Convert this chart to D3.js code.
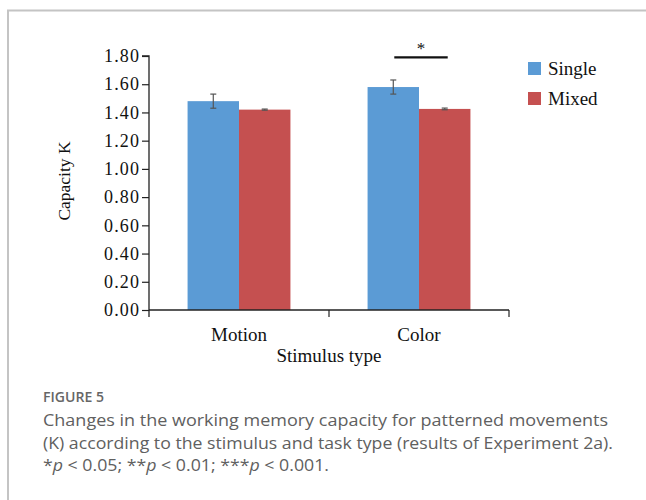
<!DOCTYPE html>
<html>
<head>
<meta charset="utf-8">
<script src="https://cdn.jsdelivr.net/npm/d3@7"></script>
<style>
  body { margin: 0; background: #fff; }
  svg text { fill: #111; }
</style>
</head>
<body>
<div id="chart"></div>
<script>
// Data
var categories = ["Motion", "Color"];
var seriesNames = ["Single", "Mixed"];
var singleValues = [1.48, 1.58];
var mixedValues = [1.42, 1.425];
var singleErr = [0.05, 0.05];
var mixedErr = [0.004, 0.006];
var yTicks = [0, 0.2, 0.4, 0.6, 0.8, 1.0, 1.2, 1.4, 1.6, 1.8];
var colors = ["#5b9bd5", "#c55050"];

var svgW = 646, svgH = 500;
var margin = { top: 56, left: 149, right: 137, bottom: 190 };
var w = svgW - margin.left - margin.right;
var h = svgH - margin.top - margin.bottom;
var serif = "Liberation Serif, Times New Roman, serif";

var svg = d3.select("#chart").append("svg")
  .attr("width", svgW)
  .attr("height", svgH);

// frame
svg.append("path")
  .attr("d", "M8,500 V10.5 H646")
  .attr("fill", "none")
  .attr("stroke", "#c4c4c4")
  .attr("stroke-width", 2);

var g = svg.append("g")
  .attr("transform", "translate(" + margin.left + "," + margin.top + ")");

var xScale = d3.scaleBand().domain(categories).range([0, w]);
var xInner = d3.scaleBand().domain(seriesNames).range([0, xScale.bandwidth()]).paddingOuter(0.75).paddingInner(0);
var yScale = d3.scaleLinear().domain([0, 1.8]).range([h, 0]);

var rows = categories.map(function (c, i) {
  return { cat: c, vals: [singleValues[i], mixedValues[i]], errs: [singleErr[i], mixedErr[i]] };
});

// bars
var groups = g.selectAll(".grp").data(rows).enter().append("g")
  .attr("transform", d => "translate(" + xScale(d.cat) + ",0)");

groups.selectAll("rect")
  .data(d => d.vals.map((v, j) => ({ s: seriesNames[j], v: v, e: d.errs[j], j: j })))
  .enter().append("rect")
  .attr("x", d => xInner(d.s))
  .attr("y", d => yScale(d.v))
  .attr("width", xInner.bandwidth())
  .attr("height", d => h - yScale(d.v))
  .attr("fill", d => colors[d.j]);

// error bars
var eb = groups.selectAll(".err")
  .data(d => d.vals.map((v, j) => ({ s: seriesNames[j], v: v, e: d.errs[j] })))
  .enter().append("g").attr("stroke", "#555").attr("stroke-width", 1.2);
eb.append("line")
  .attr("x1", d => xInner(d.s) + xInner.bandwidth() / 2)
  .attr("x2", d => xInner(d.s) + xInner.bandwidth() / 2)
  .attr("y1", d => yScale(d.v + d.e))
  .attr("y2", d => yScale(d.v - d.e));
[1, -1].forEach(function (sgn) {
  eb.append("line")
    .attr("x1", d => xInner(d.s) + xInner.bandwidth() / 2 - 3)
    .attr("x2", d => xInner(d.s) + xInner.bandwidth() / 2 + 3)
    .attr("y1", d => yScale(d.v + sgn * d.e))
    .attr("y2", d => yScale(d.v + sgn * d.e));
});

// y axis
var yAxis = d3.axisLeft(yScale).tickValues(yTicks).tickFormat(d3.format(".2f")).tickSize(7).tickPadding(2);
var yG = g.append("g").call(yAxis);
yG.select(".domain").attr("d", "M0," + (h + 7) + "V0H-7").attr("stroke", "#222").attr("stroke-width", 1.3);
yG.selectAll(".tick line").attr("stroke", "#222").attr("stroke-width", 1.2);
yG.selectAll("text").style("font-family", serif).style("font-size", "18px")
  .style("letter-spacing", "1.1px").attr("fill", "#111");

// x axis
var xG = g.append("g").attr("transform", "translate(0," + h + ")");
xG.append("line").attr("x1", 0).attr("x2", w).attr("stroke", "#222").attr("stroke-width", 1.3);
xG.selectAll(".xt").data([w / 2, w]).enter().append("line")
  .attr("x1", d => d).attr("x2", d => d).attr("y1", 0).attr("y2", 7)
  .attr("stroke", "#222").attr("stroke-width", 1.2);
xG.selectAll(".xl").data(categories).enter().append("text")
  .attr("x", d => xScale(d) + xScale.bandwidth() / 2)
  .attr("y", 31)
  .attr("text-anchor", "middle")
  .style("font-family", serif).style("font-size", "19px")
  .text(d => d);

// axis titles
g.append("text")
  .attr("x", w / 2).attr("y", h + 52)
  .attr("text-anchor", "middle")
  .style("font-family", serif).style("font-size", "19px")
  .text("Stimulus type");
g.append("text")
  .attr("transform", "rotate(-90)")
  .attr("x", -125).attr("y", -79)
  .attr("text-anchor", "middle")
  .style("font-family", serif).style("font-size", "17.5px")
  .text("Capacity K");

// significance bracket over Color
var cx = xScale("Color");
var sigY = yScale(1.79);
g.append("line")
  .attr("x1", cx + xInner("Single") + xInner.bandwidth() / 2 + 1)
  .attr("x2", cx + xInner("Mixed") + xInner.bandwidth() / 2 + 3)
  .attr("y1", sigY).attr("y2", sigY)
  .attr("stroke", "#111").attr("stroke-width", 2.2);
g.append("text")
  .attr("x", cx + xInner("Mixed") + 2).attr("y", sigY - 3)
  .attr("text-anchor", "middle")
  .style("font-family", serif).style("font-size", "17px")
  .text("*");

// legend
var leg = svg.append("g").attr("transform", "translate(528,62)");
seriesNames.forEach(function (s, i) {
  leg.append("rect").attr("x", 0).attr("y", i * 30).attr("width", 13).attr("height", 13).attr("fill", colors[i]);
  leg.append("text").attr("x", 20).attr("y", i * 30 + 13)
    .style("font-family", serif).style("font-size", "19px")
    .text(s);
});

// caption
var cap = svg.append("g").attr("transform", "translate(43,0)");
cap.append("text").attr("x", 0).attr("y", 402)
  .attr("textLength", 61).attr("lengthAdjust", "spacingAndGlyphs")
  .style("font-family", "Open Sans, sans-serif").style("font-size", "14px").style("font-weight", 600)
  .style("fill", "#666")
  .text("FIGURE 5");
var capLines = [
  "Changes in the working memory capacity for patterned movements",
  "(K) according to the stimulus and task type (results of Experiment 2a)."
];
var capWidths = [565, 570];
capLines.forEach(function (t, i) {
  cap.append("text").attr("x", 0).attr("y", 426 + i * 22.5)
    .attr("textLength", capWidths[i]).attr("lengthAdjust", "spacingAndGlyphs")
    .style("font-family", "Open Sans, sans-serif").style("font-size", "16.5px")
    .style("fill", "#606060")
    .text(t);
});
var last = cap.append("text").attr("x", 0).attr("y", 471)
  .attr("textLength", 286).attr("lengthAdjust", "spacingAndGlyphs")
  .style("font-family", "Open Sans, sans-serif").style("font-size", "16.5px")
  .style("fill", "#606060");
[["*", false], ["p", true], [" < 0.05; **", false], ["p", true], [" < 0.01; ***", false], ["p", true], [" < 0.001.", false]]
  .forEach(function (p) {
    last.append("tspan").style("font-style", p[1] ? "italic" : "normal").text(p[0]);
  });
</script>
</body>
</html>
